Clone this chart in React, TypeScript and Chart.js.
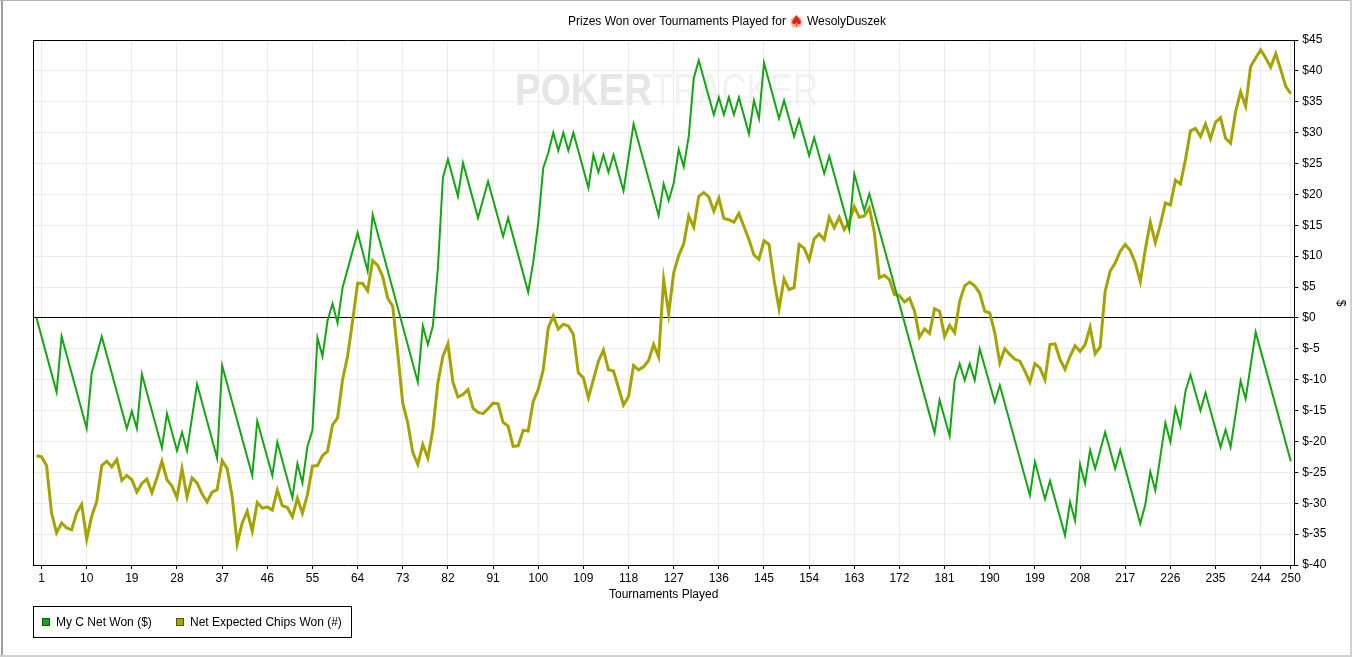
import React, { useEffect, useRef } from "react";
import { Chart, registerables } from "chart.js";
Chart.register(...registerables);

const TITLE_TEXT = "Prizes Won over Tournaments Played for";
const PLAYER = "WesolyDuszek";
const X_TITLE = "Tournaments Played";
const Y_TITLE = "$";
const SERIES_NAMES = ["My C Net Won ($)", "Net Expected Chips Won (#)"];

const xTicks = [1, 10, 19, 28, 37, 46, 55, 64, 73, 82, 91, 100, 109, 118, 127, 136, 145, 154, 163, 172, 181, 190, 199, 208, 217, 226, 235, 244, 250];
const yMin = -40;
const yMax = 45;
const yStep = 5;

// Net won ($) — vertices of the line (tournament number, value)
const netWonX = [0, 4, 5, 10, 11, 13, 18, 19, 20, 21, 25, 26, 28, 29, 30, 32, 36, 37, 43, 44, 47, 48, 51, 52, 53, 54, 55, 56, 57, 58, 59, 60, 61, 64, 66, 67, 76, 77, 78, 79, 80, 81, 82, 84, 85, 88, 90, 93, 94, 98, 99, 100, 101, 102, 103, 104, 105, 106, 107, 110, 111, 112, 113, 114, 115, 117, 119, 124, 125, 126, 127, 128, 129, 130, 131, 132, 135, 136, 137, 138, 139, 140, 142, 143, 144, 145, 148, 149, 151, 152, 154, 155, 157, 158, 162, 163, 165, 166, 179, 180, 182, 183, 184, 185, 186, 187, 188, 191, 192, 198, 199, 201, 202, 205, 206, 207, 208, 209, 210, 211, 213, 215, 216, 220, 221, 222, 223, 225, 226, 227, 228, 229, 230, 232, 233, 236, 237, 238, 240, 241, 243, 250];
const netWonY = [0, -12.0, -3.0, -17.9, -8.9, -3.0, -17.9, -15.1, -17.9, -9.1, -21.0, -15.5, -21.5, -18.5, -21.5, -10.7, -22.7, -7.7, -25.5, -16.7, -25.5, -20.1, -29.1, -23.6, -26.7, -20.8, -18.2, -3.2, -6.2, -0.5, 2.3, -0.8, 4.9, 13.8, 7.6, 16.7, -10.4, -1.3, -4.3, -1.3, 8.0, 22.7, 25.7, 19.7, 25.1, 16.2, 22.1, 13.2, 16.2, 4.2, 9.0, 15.4, 24.3, 26.7, 30.0, 27.1, 30.0, 27.1, 30.0, 21.1, 26.4, 23.6, 26.4, 23.6, 26.4, 20.6, 31.4, 16.6, 21.7, 19.0, 21.8, 27.3, 24.5, 29.4, 38.8, 41.7, 32.9, 35.7, 32.9, 35.7, 32.9, 35.7, 29.8, 35.2, 32.3, 41.3, 32.3, 35.2, 29.4, 32.1, 26.3, 29.2, 23.4, 26.2, 14.3, 23.3, 17.4, 20.1, -18.6, -13.3, -19.1, -10.1, -7.4, -10.1, -7.4, -10.1, -5.0, -13.6, -10.9, -28.7, -23.3, -29.3, -26.4, -35.2, -29.8, -32.8, -23.7, -26.8, -21.4, -24.4, -18.5, -24.4, -21.4, -33.3, -30.2, -24.9, -27.9, -17.0, -20.1, -14.6, -17.5, -11.9, -9.2, -15.0, -12.1, -20.9, -18.1, -20.9, -10.2, -13.1, -2.3, -23.2];

// Net expected chips won — one value per tournament, 0..250
const expectedY = [
  -22.3, -22.5, -23.9, -31.6, -34.8, -33.2, -34.0, -34.3, -31.6, -30.2,
  -35.8, -32.1, -29.7, -23.9, -23.2, -24.1, -22.9, -26.3, -25.5, -26.2,
  -28.2, -26.8, -26.1, -28.3, -25.9, -23.2, -26.2, -27.2, -29.1, -24.4,
  -29.0, -25.9, -26.7, -28.5, -29.8, -28.2, -27.8, -23.1, -24.4, -28.9,
  -36.6, -33.2, -31.3, -34.5, -29.9, -30.8, -30.6, -31.1, -27.9, -30.4,
  -30.7, -32.2, -29.2, -31.6, -28.6, -24.0, -23.9, -22.3, -21.6, -17.3,
  -16.2, -10.0, -6.2, -0.5, 5.6, 5.6, 4.4, 9.3, 8.5, 6.7,
  3.2, 1.9, -5.7, -13.8, -17.0, -21.8, -23.7, -20.5, -22.7, -18.1,
  -10.5, -6.2, -4.2, -10.4, -12.8, -12.4, -11.6, -14.6, -15.3, -15.5,
  -14.7, -13.8, -13.9, -16.9, -17.5, -20.8, -20.7, -18.2, -18.3, -13.5,
  -11.6, -8.4, -1.6, 0.3, -1.8, -1.0, -1.3, -2.7, -8.9, -9.7,
  -12.9, -10.0, -7.0, -5.2, -8.4, -8.6, -11.3, -14.1, -12.7, -7.7,
  -8.4, -7.9, -6.9, -4.3, -6.3, 6.2, 0.7, 7.3, 10.1, 12.0,
  16.5, 14.7, 19.7, 20.3, 19.6, 17.3, 19.4, 16.1, 15.9, 15.5,
  16.9, 14.8, 12.7, 10.2, 9.5, 12.5, 11.9, 6.2, 1.5, 6.3,
  4.6, 4.9, 11.9, 11.3, 9.4, 12.8, 13.6, 12.7, 16.3, 14.6,
  16.3, 14.3, 15.6, 18.0, 16.3, 16.5, 17.8, 13.8, 6.5, 6.9,
  6.2, 3.8, 3.6, 2.6, 3.2, 1.1, -3.1, -1.8, -2.5, 1.5,
  1.1, -3.0, -1.2, -2.4, 2.7, 5.2, 5.8, 5.2, 4.0, 1.1,
  0.8, -2.4, -7.3, -5.0, -5.9, -6.7, -7.0, -8.6, -10.4, -7.4,
  -8.1, -10.0, -4.3, -4.2, -6.7, -8.3, -6.2, -4.5, -5.4, -4.3,
  -1.5, -5.8, -4.7, 4.3, 7.6, 8.9, 10.8, 11.9, 10.9, 8.9,
  5.9, 11.1, 15.5, 12.2, 15.1, 18.6, 18.3, 22.3, 21.7, 25.6,
  30.3, 30.7, 29.4, 31.4, 29.0, 31.7, 32.4, 29.1, 28.3, 33.4,
  36.6, 34.3, 40.7, 42.1, 43.4, 42.1, 40.6, 42.8, 40.2, 37.5,
  36.3,
];

const GREEN = "#13a613";
const OLIVE = "#a5a300";
const FONT = '"Liberation Sans", Arial, sans-serif';

const decorPlugin = {
  id: "decor",
  beforeDraw(chart: any) {
    const ctx = chart.ctx as CanvasRenderingContext2D;
    ctx.save();
    ctx.fillStyle = "#ffffff";
    ctx.fillRect(0, 0, chart.width, chart.height);
    // watermark
    ctx.textBaseline = "alphabetic";
    ctx.textAlign = "left";
    ctx.font = "bold 44px " + FONT;
    let w = ctx.measureText("POKER").width;
    ctx.save();
    ctx.translate(515, 105);
    ctx.scale(137 / w, 1);
    ctx.fillStyle = "#e6e6e6";
    ctx.fillText("POKER", 0, 0);
    ctx.restore();
    ctx.font = "44px " + FONT;
    w = ctx.measureText("TRACKER").width;
    ctx.save();
    ctx.translate(652, 105);
    ctx.scale(166 / w, 1);
    ctx.fillStyle = "#f2f2f2";
    ctx.fillText("TRACKER", 0, 0);
    ctx.restore();
    ctx.restore();
  },
  afterDraw(chart: any) {
    const ctx = chart.ctx as CanvasRenderingContext2D;
    const a = chart.chartArea;
    ctx.save();
    // plot border (top and left)
    ctx.strokeStyle = "#000";
    ctx.lineWidth = 1;
    ctx.beginPath();
    ctx.moveTo(a.left + 0.5, a.bottom);
    ctx.lineTo(a.left + 0.5, a.top + 0.5);
    ctx.lineTo(a.right, a.top + 0.5);
    ctx.stroke();

    // title
    ctx.fillStyle = "#000";
    ctx.font = "12px " + FONT;
    ctx.textBaseline = "middle";
    ctx.textAlign = "left";
    ctx.fillText(TITLE_TEXT, 568, 22);
    const tw = ctx.measureText(TITLE_TEXT).width;
    const sx = 568 + tw + 4;
    ctx.fillStyle = "#f3b8a0";
    ctx.beginPath();
    ctx.arc(sx + 6.5, 22, 6, 0, Math.PI * 2);
    ctx.fill();
    ctx.fillStyle = "#d9261c";
    ctx.font = '15px "DejaVu Sans", sans-serif';
    ctx.textAlign = "center";
    ctx.fillText("\u2660", sx + 6.5, 22);
    ctx.fillStyle = "#000";
    ctx.font = "12px " + FONT;
    ctx.textAlign = "left";
    ctx.fillText(PLAYER, sx + 17, 22);

    // x axis title
    ctx.textAlign = "center";
    ctx.fillText(X_TITLE, (a.left + a.right) / 2, 595);

    // y axis title (right side, rotated)
    ctx.save();
    ctx.translate(1340, 303);
    ctx.rotate(Math.PI / 2);
    ctx.textAlign = "center";
    ctx.fillText(Y_TITLE, 0, 0);
    ctx.restore();

    // legend
    ctx.strokeStyle = "#000";
    ctx.lineWidth = 1;
    ctx.strokeRect(33.5, 606.5, 318, 31);
    const items = [
      { x: 42, color: GREEN, edge: "#0a5a0a", label: SERIES_NAMES[0] },
      { x: 176, color: OLIVE, edge: "#5a5a00", label: SERIES_NAMES[1] },
    ];
    ctx.textAlign = "left";
    for (const it of items) {
      ctx.fillStyle = it.color;
      ctx.fillRect(it.x, 618, 8, 8);
      ctx.strokeStyle = it.edge;
      ctx.strokeRect(it.x + 0.5, 618.5, 7, 7);
      ctx.fillStyle = "#000";
      ctx.fillText(it.label, it.x + 14, 622.5);
    }

    // outer frame
    ctx.fillStyle = "#a0a0a0";
    ctx.fillRect(1, 0, 2, chart.height);
    ctx.fillStyle = "#b4b4b4";
    ctx.fillRect(0, 0, chart.width, 1);
    ctx.fillStyle = "#d0d0d0";
    ctx.fillRect(0, 655, chart.width, 2);
    ctx.fillRect(chart.width - 2, 0, 2, chart.height);
    ctx.restore();
  },
};

export default function App() {
  const ref = useRef<HTMLCanvasElement | null>(null);
  useEffect(() => {
    if (!ref.current) return;
    Chart.defaults.font.family = FONT;
    Chart.defaults.font.size = 12;
    Chart.defaults.color = "#000";
    const chart = new Chart(ref.current, {
      type: "line",
      data: {
        datasets: [
          {
            label: SERIES_NAMES[0],
            data: netWonX.map((x, i) => ({ x, y: netWonY[i] })),
            borderColor: GREEN,
            backgroundColor: GREEN,
            borderWidth: 2,
            pointRadius: 0,
            tension: 0,
            fill: false,
          },
          {
            label: SERIES_NAMES[1],
            data: expectedY.map((y, i) => ({ x: i, y })),
            borderColor: OLIVE,
            backgroundColor: OLIVE,
            borderWidth: 3,
            pointRadius: 0,
            tension: 0,
            fill: false,
          },
        ],
      },
      options: {
        animation: false,
        responsive: false,
        maintainAspectRatio: false,
        layout: { padding: { left: 33, top: 40, right: 0, bottom: 0 } },
        plugins: {
          legend: { display: false },
          title: { display: false },
          tooltip: { enabled: false },
        },
        scales: {
          x: {
            type: "linear",
            min: -0.7,
            max: 250.7,
            afterBuildTicks: (s: any) => {
              s.ticks = xTicks.map((v) => ({ value: v }));
            },
            afterFit: (s: any) => {
              s.height = 92;
            },
            ticks: {
              autoSkip: false,
              maxRotation: 0,
              padding: 2,
              color: "#000",
              font: { size: 12, family: FONT },
              callback: (v: any) => String(v),
            },
            grid: { color: "#ebebeb", tickColor: "#000", tickLength: 4, lineWidth: 1 },
            border: { display: true, color: "#000", width: 1 },
          },
          y: {
            type: "linear",
            position: "right",
            min: yMin,
            max: yMax,
            afterFit: (s: any) => {
              s.width = 57.7;
            },
            ticks: {
              stepSize: yStep,
              padding: 4,
              color: "#000",
              font: { size: 12, family: FONT },
              callback: (v: any) => "$" + v,
            },
            grid: {
              color: (c: any) => (c.tick && c.tick.value === 0 ? "#000" : "#ebebeb"),
              tickColor: "#000",
              tickLength: 4,
              lineWidth: 1,
            },
            border: { display: true, color: "#000", width: 1 },
          },
        },
      },
      plugins: [decorPlugin],
    } as any);
    return () => chart.destroy();
  }, []);
  return (
    <div style={{ position: "fixed", left: 0, top: 0, width: 1352, height: 657, background: "#fff" }}>
      <canvas ref={ref} width={1352} height={657} style={{ width: 1352, height: 657, display: "block" }} />
    </div>
  );
}
